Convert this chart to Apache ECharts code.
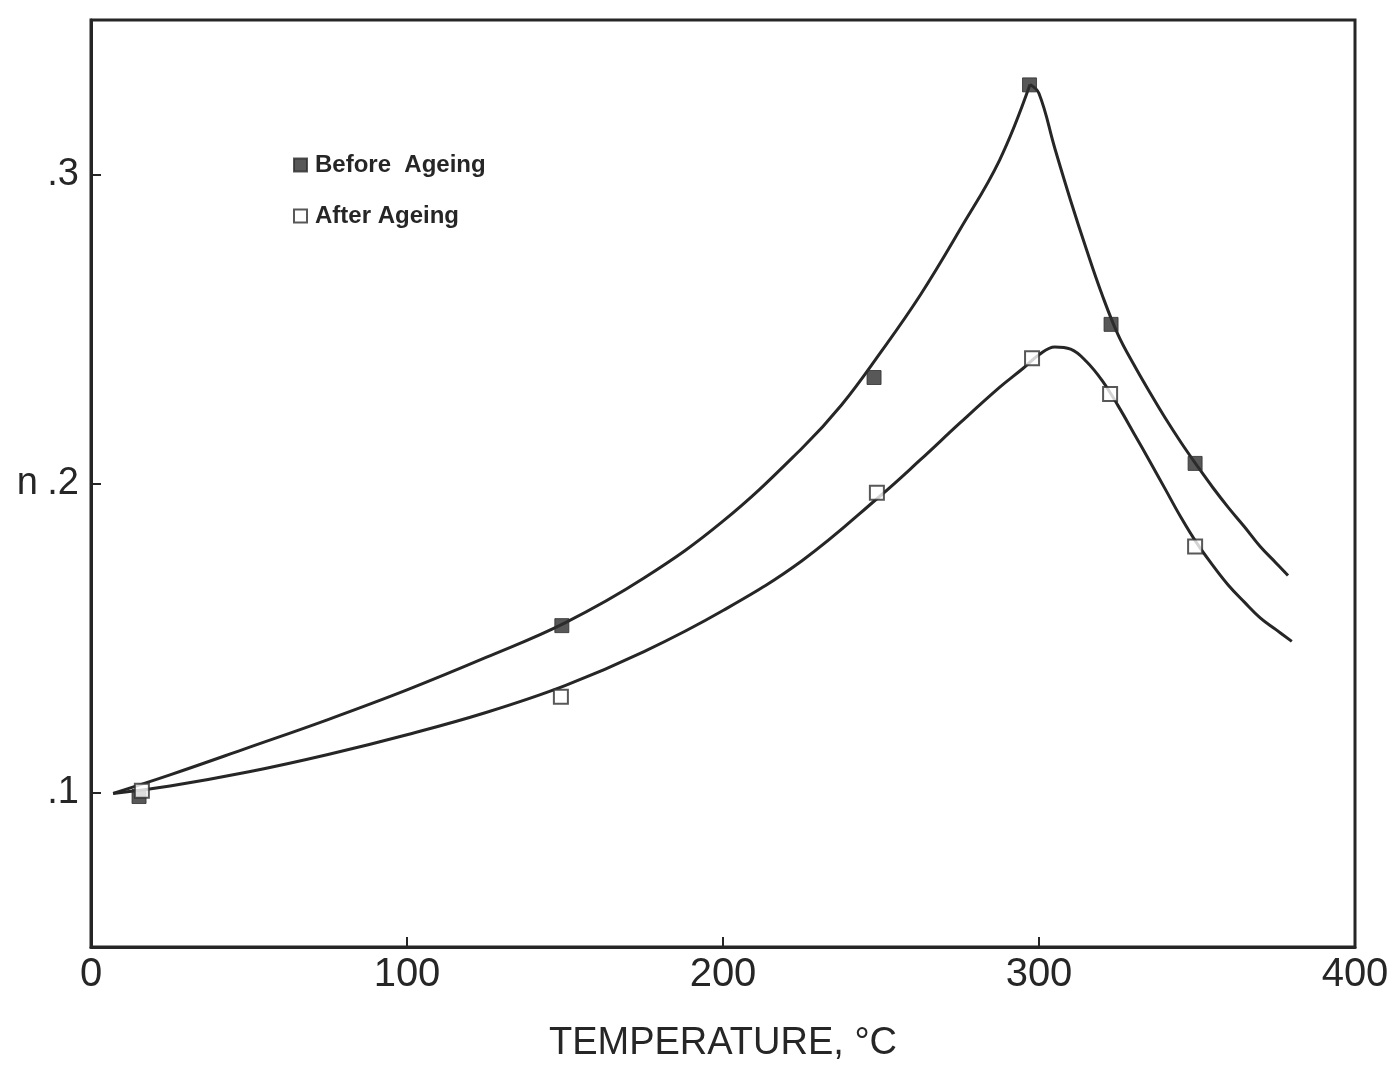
<!DOCTYPE html>
<html>
<head>
<meta charset="utf-8">
<style>
  html, body { margin: 0; padding: 0; background: #fff; }
  #chart { width: 1397px; height: 1071px; }
</style>
<script src="https://cdn.jsdelivr.net/npm/echarts@6/dist/echarts.min.js"></script>
</head>
<body>
<div id="chart"></div>
<script>
// Strain-hardening exponent n versus test temperature

const yTicks = [0.1, 0.2, 0.3];
const xTicks = [0, 100, 200, 300, 400];

// measured points
const beforePoints = [
  [15.2, 0.0987], [149, 0.154], [247.8, 0.2343],
  [297, 0.329], [322.8, 0.2515], [349.4, 0.2065]
];
const afterPoints = [
  [16.1, 0.1006], [148.7, 0.131], [248.7, 0.197],
  [297.8, 0.2405], [322.5, 0.229], [349.4, 0.1796]
];

// fitted curve, before ageing: rising branch up to the cusp, then falling branch
const beforeRise = [
  [7, 0.0997], [25, 0.1057], [50, 0.1146], [75, 0.1236], [100, 0.1332],
  [125, 0.1437], [150, 0.1549], [175, 0.1694], [200, 0.1878], [225, 0.2114],
  [237.5, 0.2254], [250, 0.2426], [262.5, 0.2611], [275, 0.2822],
  [287.5, 0.3046], [297.15, 0.3291]
];
const beforeFall = [
  [297.15, 0.3291], [300, 0.3262], [305, 0.3085], [310, 0.2916], [315, 0.2758],
  [320, 0.2610], [325, 0.2482], [330, 0.2385], [335, 0.2296], [340, 0.2211],
  [345, 0.2132], [350, 0.2058], [355, 0.1987], [360, 0.1921], [365, 0.1860],
  [370, 0.1796], [375, 0.1743], [378.8, 0.1702]
];

// fitted curve, after ageing
const afterCurve = [
  [7, 0.0997], [25, 0.1021], [50, 0.1067], [75, 0.1123], [100, 0.1187],
  [125, 0.1259], [150, 0.1346], [175, 0.1456], [200, 0.1589], [225, 0.1750],
  [250, 0.1962], [262.5, 0.2077], [275, 0.2196], [287.5, 0.2311], [295, 0.2373],
  [300, 0.2417], [305, 0.2442], [310, 0.2435], [315, 0.2395], [320, 0.2333],
  [325, 0.2252], [330, 0.2163], [335, 0.2073], [340, 0.1981], [345, 0.1889],
  [350, 0.1806], [355, 0.1735], [360, 0.1670], [365, 0.1616], [370, 0.1565],
  [375, 0.1527], [380, 0.1489]
];

const ink = '#262626';
const font = "'Liberation Sans', Arial, sans-serif";

const chart = echarts.init(document.getElementById('chart'), null, { renderer: 'canvas' });

const curveStyle = { color: ink, width: 3 };

chart.setOption({
  backgroundColor: '#ffffff',
  animation: false,
  grid: {
    left: 91, right: 42, top: 20, bottom: 124,
    show: true, borderColor: ink, borderWidth: 3, backgroundColor: 'transparent'
  },
  legend: {
    data: ['Before  Ageing', 'After Ageing'],
    orient: 'vertical',
    left: 288, top: 148,
    itemWidth: 13, itemHeight: 13, itemGap: 27,
    textStyle: { fontFamily: font, fontWeight: 'bold', fontSize: 24, color: ink, padding: [0, 0, 0, 3] }
  },
  xAxis: {
    type: 'value', min: 0, max: 400, interval: 100,
    name: 'TEMPERATURE, °C', nameLocation: 'middle', nameGap: 78,
    nameTextStyle: { fontFamily: font, fontSize: 38, color: ink },
    axisLine: { lineStyle: { color: ink, width: 3 } },
    axisTick: { inside: true, length: 10, lineStyle: { color: ink, width: 2 }, customValues: xTicks.slice(1, 4) },
    axisLabel: { fontFamily: font, fontSize: 40, color: ink, margin: 8, customValues: xTicks },
    splitLine: { show: false }
  },
  yAxis: {
    type: 'value', min: 0.05, max: 0.35,
    name: 'n', nameLocation: 'middle', nameRotate: 0, nameGap: 53,
    nameTextStyle: { fontFamily: font, fontSize: 38, color: ink },
    axisLine: { lineStyle: { color: ink, width: 3 } },
    axisTick: { inside: true, length: 10, lineStyle: { color: ink, width: 2 }, customValues: yTicks },
    axisLabel: {
      fontFamily: font, fontSize: 38, color: ink, margin: 12, customValues: yTicks,
      formatter: v => '.' + Math.round(v * 10)
    },
    splitLine: { show: false }
  },
  series: [
    { type: 'line', data: beforeRise, smooth: 0.4, symbol: 'none', lineStyle: curveStyle, silent: true, z: 2 },
    { type: 'line', data: beforeFall, smooth: 0.4, symbol: 'none', lineStyle: curveStyle, silent: true, z: 2 },
    { type: 'line', data: afterCurve, smooth: 0.4, symbol: 'none', lineStyle: curveStyle, silent: true, z: 2 },
    {
      name: 'Before  Ageing', type: 'scatter', data: beforePoints,
      symbol: 'rect', symbolSize: 14,
      itemStyle: { color: '#2e2e2e', borderColor: '#2e2e2e', borderWidth: 1 }, z: 3
    },
    {
      name: 'After Ageing', type: 'scatter', data: afterPoints,
      symbol: 'rect', symbolSize: 14,
      itemStyle: { color: '#ffffff', borderColor: '#2e2e2e', borderWidth: 2 }, z: 3
    }
  ]
});
</script>
</body>
</html>
